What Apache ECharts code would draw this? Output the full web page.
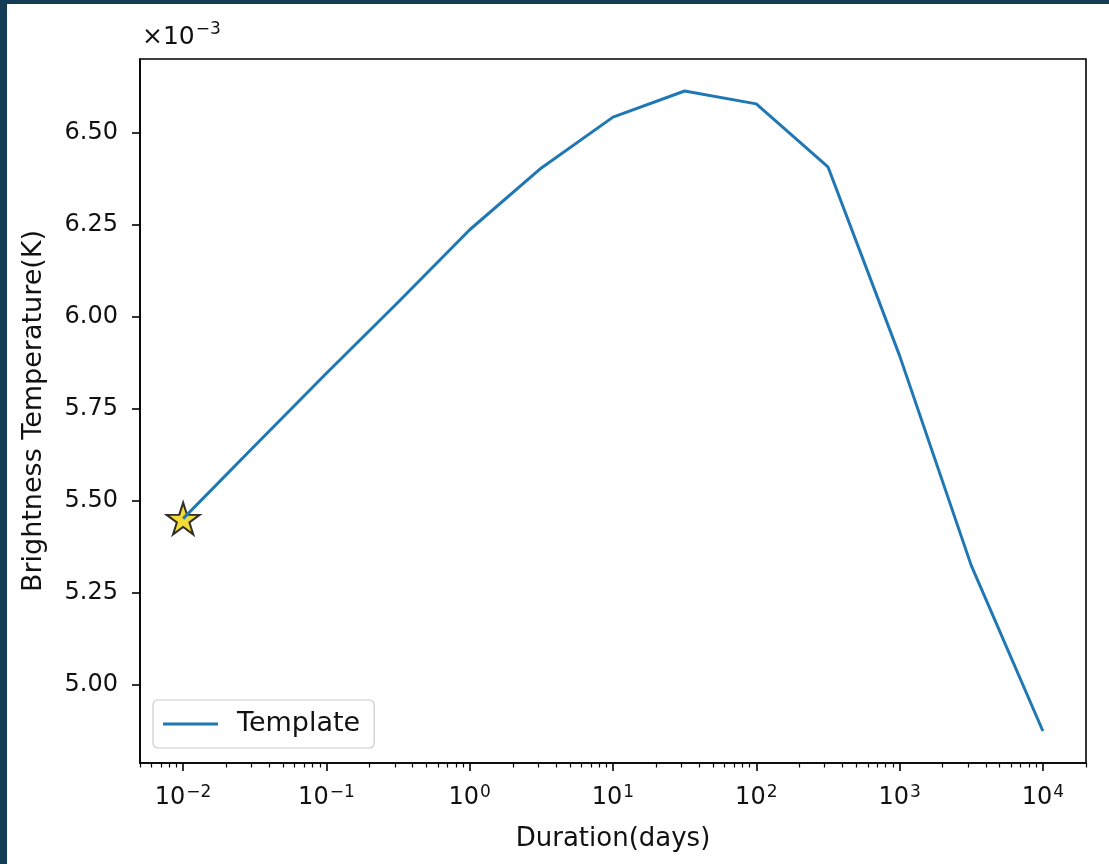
<!DOCTYPE html>
<html>
<head>
<meta charset="utf-8">
<script src="https://cdn.jsdelivr.net/npm/echarts@6/dist/echarts.min.js"></script>
<style>
html,body{margin:0;padding:0;background:#ffffff;}
#chart{width:1109px;height:864px;}
</style>
</head>
<body>
<div id="chart"></div>
<script>
// Data (brightness in units of 1e-3 K)
const durationDays = [0.01, 0.03162, 0.1, 0.3162, 1, 3.162, 10, 31.62, 100, 316.2, 1000, 3162, 10000];
const brightness = [5.452, 5.650, 5.847, 6.040, 6.237, 6.405, 6.543, 6.614, 6.579, 6.408, 5.895, 5.325, 4.875];
const starPoint = [0.01, 5.452];
const xTickValues = [0.01, 0.1, 1, 10, 100, 1000, 10000];
const yTickLabels = ['5.00', '5.25', '5.50', '5.75', '6.00', '6.25', '6.50'];
const seriesName = 'Template';

const X_MIN = 0.005, X_MAX = 20000;
const minorTicks = [];
[0.001, 0.01, 0.1, 1, 10, 100, 1000, 10000].forEach(function (d) {
  for (let k = 2; k <= 9; k++) {
    const v = +(k * d).toPrecision(6);
    if (v >= X_MIN && v <= X_MAX) minorTicks.push(v);
  }
});

const FONT = 'DejaVu Sans';
const chart = echarts.init(document.getElementById('chart'), null, {renderer: 'canvas'});
const starPath = 'path://M100,0 L122.45,69.1 L195.1,69.1 L136.3,111.8 L158.8,180.9 L100,138.2 L41.2,180.9 L63.7,111.8 L4.9,69.1 L77.55,69.1 Z';

function powLabel(v) {
  const e = Math.round(Math.log10(v));
  const s = e < 0 ? '\u2212' + (-e) : String(e);
  return '{b|10}{s|' + s + '}';
}

const option = {
  backgroundColor: '#ffffff',
  animation: false,
  textStyle: {fontFamily: FONT},
  graphic: [
    {type: 'rect', left: 0, top: 0, shape: {width: 7, height: 864}, style: {fill: '#123d55'}, z: 100},
    {type: 'rect', left: 0, top: 0, shape: {width: 1109, height: 4}, style: {fill: '#123d55'}, z: 100},
    {type: 'text', left: 142, top: 21, z: 100,
      style: {text: '{b|\u00d710}{s|\u22123}', rich: {
        b: {fontFamily: FONT, fontSize: 25, fill: '#111', verticalAlign: 'bottom'},
        s: {fontFamily: FONT, fontSize: 17, fill: '#111', padding: [0, 0, 12, 1]}
      }}}
  ],
  grid: {left: 140, top: 59, right: 23, bottom: 101, show: true, borderColor: '#000', borderWidth: 1.6, backgroundColor: 'transparent'},
  legend: {
    data: [seriesName],
    left: 153, top: 700,
    orient: 'vertical',
    icon: 'rect',
    itemWidth: 55, itemHeight: 3,
    padding: [10, 14, 10, 10],
    borderColor: '#cccccc', borderWidth: 1.2, borderRadius: 5,
    backgroundColor: 'rgba(255,255,255,0.8)',
    textStyle: {fontFamily: FONT, fontSize: 27, lineHeight: 28, color: '#111', padding: [0, 0, 0, 14]}
  },
  xAxis: [
    {
      type: 'log', logBase: 10, min: X_MIN, max: X_MAX,
      name: 'Duration(days)', nameLocation: 'middle', nameGap: 63,
      nameTextStyle: {fontFamily: FONT, fontSize: 26, color: '#111', verticalAlign: 'top'},
      axisLine: {show: true, lineStyle: {color: '#000', width: 1.6}},
      axisTick: {show: true, length: 8, lineStyle: {color: '#000', width: 1.6}, customValues: xTickValues},
      axisLabel: {show: true, margin: 21, customValues: xTickValues, formatter: powLabel,
        rich: {
          b: {fontFamily: FONT, fontSize: 24, color: '#111'},
          s: {fontFamily: FONT, fontSize: 17, color: '#111', padding: [0, 0, 11, 1]}
        }},
      splitLine: {show: false}, minorTick: {show: false}
    },
    {
      type: 'log', logBase: 10, min: X_MIN, max: X_MAX, gridIndex: 0, position: 'bottom',
      axisLine: {show: false},
      axisTick: {show: true, length: 4.5, lineStyle: {color: '#000', width: 1.2}, customValues: minorTicks},
      axisLabel: {show: false},
      splitLine: {show: false}
    }
  ],
  yAxis: {
    type: 'value', min: 4.788, max: 6.701,
    name: 'Brightness Temperature(K)', nameLocation: 'middle', nameGap: 93,
    nameTextStyle: {fontFamily: FONT, fontSize: 27, color: '#111'},
    axisLine: {show: true, lineStyle: {color: '#000', width: 1.6}},
    axisTick: {show: true, length: 8, lineStyle: {color: '#000', width: 1.6}, customValues: yTickLabels.map(Number)},
    axisLabel: {show: true, margin: 22, fontFamily: FONT, fontSize: 24, color: '#111',
      customValues: yTickLabels.map(Number), formatter: function (v) { return v.toFixed(2); }},
    splitLine: {show: false}
  },
  series: [
    {
      name: 'star', type: 'scatter', xAxisIndex: 0, z: 1,
      symbol: starPath, symbolSize: [33, 32], symbolOffset: [0, 0],
      itemStyle: {color: '#f0d20a', borderColor: '#000', borderWidth: 2},
      data: [starPoint]
    },
    {
      name: seriesName, type: 'line', xAxisIndex: 0, z: 3,
      symbol: 'none', lineStyle: {color: '#1f77b4', width: 3},
      itemStyle: {color: '#1f77b4'},
      data: durationDays.map(function (d, i) { return [d, brightness[i]]; })
    }
  ]
};
chart.setOption(option);
</script>
</body>
</html>
